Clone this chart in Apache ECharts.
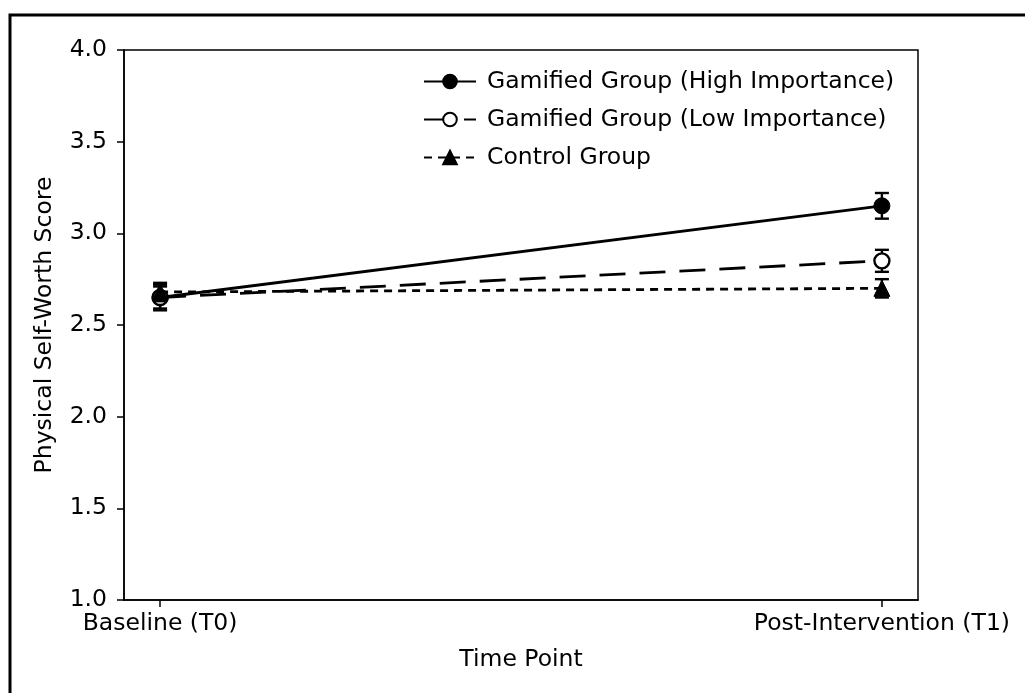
<!DOCTYPE html>
<html>
<head>
<meta charset="utf-8">
<script src="https://cdn.jsdelivr.net/npm/echarts@6/dist/echarts.min.js"></script>
<style>
html,body{margin:0;padding:0;background:#fff;}
#main{width:1025px;height:693px;}
</style>
</head>
<body>
<div id="main"></div>
<script>
const categories = ['Baseline (T0)', 'Post-Intervention (T1)'];
const yTicks = [1.0, 1.5, 2.0, 2.5, 3.0, 3.5, 4.0];
const highMean = [2.65, 3.15];
const highErr = [0.07, 0.07];
const lowMean = [2.65, 2.85];
const lowErr = [0.06, 0.06];
const ctrlMean = [2.68, 2.70];
const ctrlErr = [0.05, 0.05];
const seriesNames = ['Gamified Group (High Importance)', 'Gamified Group (Low Importance)', 'Control Group'];

const FONT = 'DejaVu Sans';
const FS = 23.5;

function lineData(mean) { return mean.map((v, i) => [i, v]); }
function errData(mean, err) { return mean.map((v, i) => [i, v - err[i], v + err[i]]); }

function errSeries(name, mean, err, z) {
  return {
    type: 'custom',
    name: name + ' err',
    z: z,
    silent: true,
    data: errData(mean, err),
    renderItem: function (params, api) {
      const lo = api.coord([api.value(0), api.value(1)]);
      const hi = api.coord([api.value(0), api.value(2)]);
      const cw = 7;
      const st = { stroke: '#000', lineWidth: 2.4 };
      return {
        type: 'group',
        children: [
          { type: 'line', shape: { x1: lo[0], y1: lo[1], x2: hi[0], y2: hi[1] }, style: st },
          { type: 'line', shape: { x1: lo[0] - cw, y1: lo[1], x2: lo[0] + cw, y2: lo[1] }, style: st },
          { type: 'line', shape: { x1: hi[0] - cw, y1: hi[1], x2: hi[0] + cw, y2: hi[1] }, style: st }
        ]
      };
    }
  };
}

const chart = echarts.init(document.getElementById('main'), null, { renderer: 'canvas' });
const option = {
  backgroundColor: '#fff',
  animation: false,
  textStyle: { fontFamily: FONT },
  graphic: [{
    type: 'rect', z: -10, silent: true,
    shape: { x: 10, y: 15, width: 1100, height: 800 },
    style: { fill: 'none', stroke: '#000', lineWidth: 3 }
  }],
  grid: {
    left: 124, right: 107, top: 50, bottom: 93,
    show: true, borderColor: '#000', borderWidth: 1.5, backgroundColor: 'transparent'
  },
  legend: {
    orient: 'vertical',
    left: 418, top: 63,
    itemWidth: 52, itemHeight: 17,
    itemGap: 11,
    data: seriesNames,
    textStyle: { fontFamily: FONT, fontSize: FS, color: '#000', padding: [0, 0, 0, 6], lineHeight: 27 }
  },
  xAxis: {
    type: 'value', min: -0.05, max: 1.05,
    name: 'Time Point', nameLocation: 'middle', nameGap: 48,
    nameTextStyle: { fontFamily: FONT, fontSize: FS, color: '#000' },
    splitLine: { show: false },
    axisLine: { show: true, onZero: false, lineStyle: { color: '#000', width: 1.5 } },
    axisTick: { show: true, length: 7, lineStyle: { color: '#000', width: 1.5 }, customValues: [0, 1] },
    axisLabel: {
      customValues: [0, 1], margin: 12,
      fontFamily: FONT, fontSize: FS, color: '#000',
      formatter: function (v) { return categories[Math.round(v)]; }
    }
  },
  yAxis: {
    type: 'value', min: 1.0, max: 4.0, interval: 0.5,
    name: 'Physical Self-Worth Score', nameLocation: 'middle', nameGap: 67,
    nameTextStyle: { fontFamily: FONT, fontSize: FS, color: '#000' },
    splitLine: { show: false },
    axisLine: { show: true, onZero: false, lineStyle: { color: '#000', width: 1.5 } },
    axisTick: { show: true, length: 7, lineStyle: { color: '#000', width: 1.5 } },
    axisLabel: {
      margin: 17, fontFamily: FONT, fontSize: FS, color: '#000',
      formatter: function (v) { return yTicks.indexOf(v) >= 0 ? v.toFixed(1) : ''; }
    }
  },
  series: [
    errSeries(seriesNames[0], highMean, highErr, 2),
    {
      type: 'line', name: seriesNames[0], z: 3,
      data: lineData(highMean),
      symbol: 'circle', symbolSize: 16,
      lineStyle: { color: '#000', width: 2.8, type: 'solid' },
      itemStyle: { color: '#000', borderColor: '#000', borderWidth: 1 }
    },
    errSeries(seriesNames[1], lowMean, lowErr, 4),
    {
      type: 'line', name: seriesNames[1], z: 5,
      data: lineData(lowMean),
      symbol: 'circle', symbolSize: 15,
      lineStyle: { color: '#000', width: 2.8, type: [26, 14] },
      itemStyle: { color: '#fff', borderColor: '#000', borderWidth: 2.4 }
    },
    errSeries(seriesNames[2], ctrlMean, ctrlErr, 6),
    {
      type: 'line', name: seriesNames[2], z: 7,
      data: lineData(ctrlMean),
      symbol: 'triangle', symbolSize: [16, 16],
      lineStyle: { color: '#000', width: 2.8, type: [8, 6] },
      itemStyle: { color: '#000', borderColor: '#000', borderWidth: 1 }
    }
  ]
};
chart.setOption(option);
</script>
</body>
</html>
